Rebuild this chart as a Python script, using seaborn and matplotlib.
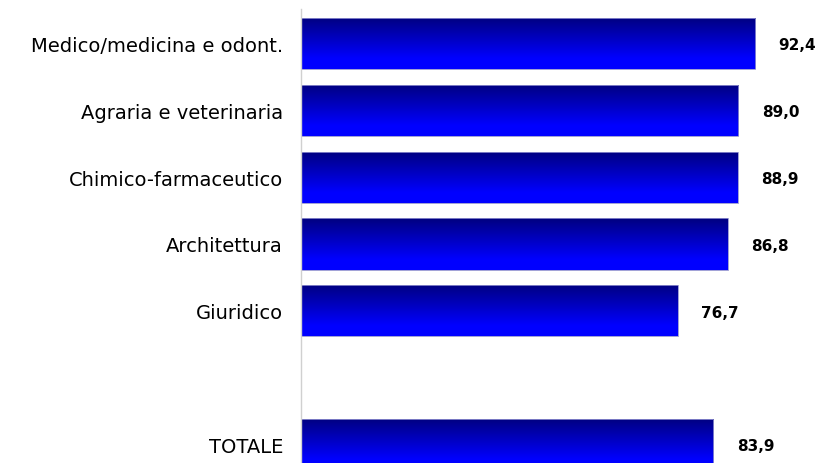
import matplotlib
matplotlib.use("Agg")
import matplotlib.pyplot as plt
from matplotlib.colors import LinearSegmentedColormap
import numpy as np
import pandas as pd
import seaborn as sns

categorie = ["Medico/medicina e odont.", "Agraria e veterinaria", "Chimico-farmaceutico",
             "Architettura", "Giuridico", "TOTALE"]
valori = [92.4, 89.0, 88.9, 86.8, 76.7, 83.9]
ordine = categorie[:5] + [" "] + categorie[5:]

sns.set_style("white")
plt.rcParams['font.family'] = ['DejaVu Sans']

df = pd.DataFrame({"cat": categorie, "val": valori})

fig = plt.figure(figsize=(8.19, 4.64), dpi=100)
ax = fig.add_axes([0.3675, 0.0, 0.6, 0.978])

sns.barplot(data=df, x="val", y="cat", order=ordine, orient="h", width=0.77,
            color="#0000ff", edgecolor="#9090d0", linewidth=0.6, ax=ax)

# sfumatura verticale blu scuro -> blu
cmap = LinearSegmentedColormap.from_list("grad", ["#000080", "#0000ff"])
grad = np.clip(np.linspace(0, 1, 100) / 0.8, 0, 1).reshape(-1, 1)
for p in ax.patches:
    x0, y0 = p.get_x(), p.get_y()
    w, h = p.get_width(), p.get_height()
    if not np.isfinite(w) or w == 0:
        continue
    p.set_facecolor("none")
    im = ax.imshow(grad, cmap=cmap, extent=[x0, x0 + w, y0 + h, y0],
                   aspect="auto", origin="upper", zorder=p.get_zorder() - 0.1)
    im.set_clip_path(p)

for v, c in zip(valori, categorie):
    yi = ordine.index(c)
    ax.text(v + 4.8, yi + 0.02, f"{v:.1f}".replace(".", ","), va="center", ha="left",
            fontsize=11, fontweight="bold", color="black")

ax.set_xlim(0, 100)
ax.set_ylim(6.28, -0.516)
ax.set_xlabel("")
ax.set_ylabel("")
ax.set_xticks([])
ax.tick_params(axis="y", length=0, pad=13, labelsize=14, labelcolor="black")
for s in ["top", "right", "bottom"]:
    ax.spines[s].set_visible(False)
ax.spines["left"].set_color("#d0d0d0")
ax.spines["left"].set_linewidth(1)

fig.savefig("out.png", dpi=100)
